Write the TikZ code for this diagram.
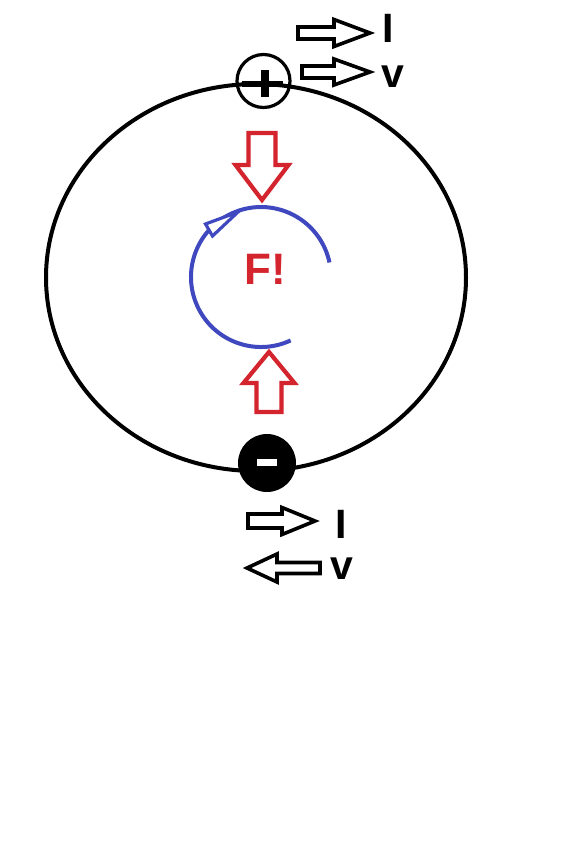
\documentclass[tikz,border=0pt]{standalone}
\usepackage{fontspec}
\setsansfont{Liberation Sans}
\definecolor{myred}{RGB}{212,36,46}
\definecolor{myblue}{RGB}{63,72,190}
\tikzset{
  pics/blockarrow/.style n args={4}{code={
    \draw[pic actions] (0,#2) -- ({#1-#4},#2) -- ({#1-#4},#3) -- (#1,0)
      -- ({#1-#4},-#3) -- ({#1-#4},-#2) -- (0,-#2) -- cycle;}},
  blackarrow/.style={draw=black, line width=3.6pt, line join=miter},
  redarrow/.style={draw=myred, line width=4.2pt, line join=miter},
  lbl/.style={font=\sffamily\bfseries\fontsize{41}{41}\selectfont, inner sep=0pt, text=black},
}
\begin{document}
\begin{tikzpicture}[x=1pt,y=1pt]
\useasboundingbox[fill=white] (0,0) rectangle (585,-868);
% main loop
\draw[line width=4pt] (256,-277.5) ellipse [x radius=210, y radius=193.5];
% plus terminal
\node[circle, draw=black, line width=3.2pt, minimum size=53pt, inner sep=0pt] (plus) at (263.5,-81) {};
\draw[line width=6pt] (242,-84) -- (283,-84);
\draw[line width=8pt] (265,-70) -- (265,-97);
% minus terminal
\node[circle, fill=black, minimum size=58pt, inner sep=0pt] (minus) at (267,-463) {};
\fill[white] (257,-459) rectangle (277,-466);
% top arrows and labels
\pic[blackarrow] at (298,-33) {blockarrow={72}{6}{13.5}{36}};
\node[lbl] (I1) at (388,-28) {I};
\pic[blackarrow] at (302,-72) {blockarrow={68}{6}{13}{36}};
\node[lbl] (v1) at (393,-77) {v};
% bottom arrows and labels
\pic[blackarrow] at (248,-521) {blockarrow={67}{7}{13.5}{33}};
\node[lbl] (I2) at (341,-524) {I};
\pic[blackarrow, rotate=180] at (320,-568) {blockarrow={73}{5.5}{14}{30}};
\node[lbl] (v2) at (342,-569) {v};
% red force arrows
\pic[redarrow, rotate=-90] at (262,-133) {blockarrow={67}{13.5}{26.5}{35}};
\pic[redarrow, rotate=90] at (269,-412) {blockarrow={60}{12.5}{25.5}{31}};
% blue rotation arc
\draw[myblue, line width=4pt] (261,-277) ++(295:70) arc[start angle=295, end angle=12, radius=70];
\draw[myblue, line width=3.2pt, line join=miter, fill=white] (205.5,-224) -- (238,-212) -- (212.5,-236) -- cycle;
% F!
\node[font=\sffamily\bfseries\fontsize{44}{44}\selectfont, text=myred, inner sep=0pt] (F) at (265,-269) {F!};
\end{tikzpicture}
\end{document}
